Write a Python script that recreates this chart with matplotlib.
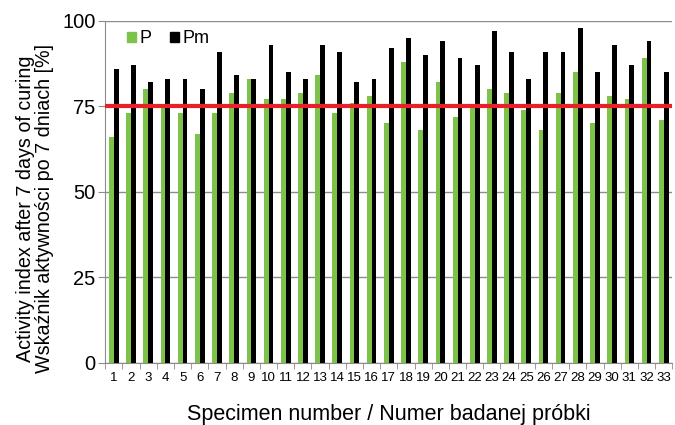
import numpy as np
import matplotlib
matplotlib.use("Agg")
import matplotlib.pyplot as plt
from matplotlib.patches import Patch

plt.rcParams['font.family'] = ['Liberation Sans', 'DejaVu Sans']

# specimen numbers and activity index values
specimens = list(range(1, 34))
p_vals = [66, 73, 80, 75, 73, 67, 73, 79, 83, 77, 77,
          79, 84, 73, 76, 78, 70, 88, 68, 82, 72, 75,
          80, 79, 74, 68, 79, 85, 70, 78, 77, 89, 71]
pm_vals = [86, 87, 82, 83, 83, 80, 91, 84, 83, 93, 85,
           83, 93, 91, 82, 83, 92, 95, 90, 94, 89, 87,
           97, 91, 83, 91, 91, 98, 85, 93, 87, 94, 85]
limit = 75

green = '#7dc34a'
grey = '#8c8c8c'

fig = plt.figure(figsize=(6.75, 4.25), dpi=100)
ax = fig.add_axes([0.156, 0.147, 0.84, 0.804])

x = np.arange(len(specimens))
w = 0.28
ax.bar(x - w / 2, p_vals, width=w, color=green, zorder=3)
ax.bar(x + w / 2, pm_vals, width=w, color='black', zorder=3)

# 75% threshold line
ax.axhline(limit, color='#e8202a', linewidth=3, zorder=4)

ax.set_xlim(-0.5, len(specimens) - 0.5)
ax.set_ylim(0, 100)
ax.set_yticks([0, 25, 50, 75, 100])
ax.yaxis.grid(True, color=grey, linewidth=1, zorder=0)

ax.set_xticks(x)
ax.set_xticklabels([str(s) for s in specimens], fontsize=9.5)
ax.set_xticks(np.arange(len(specimens) + 1) - 0.5, minor=True)
ax.tick_params(axis='x', which='major', length=0, pad=7)
ax.tick_params(axis='x', which='minor', length=4, color=grey, direction='out')
ax.tick_params(axis='y', length=5, color=grey, labelsize=14.5, pad=2)

for side in ['top', 'right']:
    ax.spines[side].set_visible(False)
for side in ['left', 'bottom']:
    ax.spines[side].set_color(grey)

ax.set_ylabel('Activity index after 7 days of curing\nWskaźnik aktywności po 7 dniach [%]',
              fontsize=14.2, linespacing=1.0)
ax.yaxis.set_label_coords(-0.09, 0.45)
ax.set_xlabel('Specimen number / Numer badanej próbki', fontsize=15.5)
ax.xaxis.set_label_coords(0.5, -0.12)

handles = [Patch(color=green, label='P'), Patch(color='black', label='Pm')]
ax.legend(handles=handles, loc='upper left', ncol=2, frameon=False, fontsize=13,
          handlelength=0.5, handleheight=0.5, handletextpad=0.2, columnspacing=1.0,
          bbox_to_anchor=(0.01, 1.02))

fig.savefig('out.png', dpi=100)
